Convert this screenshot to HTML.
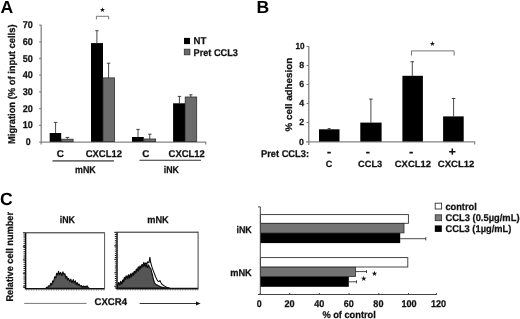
<!DOCTYPE html>
<html>
<head>
<meta charset="utf-8">
<title>Figure</title>
<style>
html,body{margin:0;padding:0;background:#fff;}
body{width:520px;height:319px;overflow:hidden;}
svg{display:block;filter:blur(0.35px);}
text{font-family:"Liberation Sans",Arial,sans-serif;font-weight:bold;fill:#111;text-rendering:geometricPrecision;}
.t{font-size:9.8px;stroke:#111;stroke-width:0.25;}
.p{font-size:17.6px;fill:#000;}
.st{font-family:"DejaVu Sans",sans-serif;font-weight:normal;font-size:6.6px;text-anchor:middle;fill:#111;}
.ax{stroke:#858585;stroke-width:1.3;fill:none;}
.axd{stroke:#444;stroke-width:1;fill:none;}
.eb{stroke:#1a1a1a;stroke-width:0.8;fill:none;}
.bk{fill:#000;}
.gy{fill:#6b6b6b;stroke:#2e2e2e;stroke-width:0.8;}
.wh{fill:#fff;stroke:#333;stroke-width:0.9;}
</style>
</head>
<body>
<svg width="520" height="319" viewBox="0 0 520 319">
<rect x="0" y="0" width="520" height="319" fill="#fff"/>

<!-- ================= PANEL A ================= -->
<g id="panelA">
<text class="p" x="0.5" y="13.2">A</text>
<text class="t" transform="translate(15,144) rotate(-90)" textLength="119.5" lengthAdjust="spacingAndGlyphs">Migration (% of input cells)</text>

<!-- y tick labels -->
<g class="t" text-anchor="middle">
<text x="27.8" y="28.1" textLength="10.1" lengthAdjust="spacingAndGlyphs">70</text>
<text x="27.8" y="44.8" textLength="10.1" lengthAdjust="spacingAndGlyphs">60</text>
<text x="27.8" y="61.5" textLength="10.1" lengthAdjust="spacingAndGlyphs">50</text>
<text x="27.8" y="78.2" textLength="10.1" lengthAdjust="spacingAndGlyphs">40</text>
<text x="27.8" y="94.9" textLength="10.1" lengthAdjust="spacingAndGlyphs">30</text>
<text x="27.8" y="111.6" textLength="10.1" lengthAdjust="spacingAndGlyphs">20</text>
<text x="27.8" y="128.3" textLength="10.1" lengthAdjust="spacingAndGlyphs">10</text>
<text x="28.2" y="145" textLength="4.9" lengthAdjust="spacingAndGlyphs">0</text>
</g>
<!-- axes -->
<path class="ax" d="M41.2 24.8V144.4 M39.2 25.1h2 M39.2 41.8h2 M39.2 58.5h2 M39.2 75.2h2 M39.2 91.9h2 M39.2 108.6h2 M39.2 125.3h2 M39.2 142.1h166.5v2.4"/>

<!-- bars mNK C -->
<rect class="bk" x="49.7" y="133" width="11.5" height="8.8"/>
<rect class="gy" x="61.5" y="139.2" width="11.6" height="2.5"/>
<!-- bars mNK CXCL12 -->
<rect class="bk" x="91" y="43.1" width="12" height="98.7"/>
<rect class="gy" x="103" y="77.9" width="11.6" height="63.6"/>
<!-- bars iNK C -->
<rect class="bk" x="132" y="137" width="11.8" height="4.8"/>
<rect class="gy" x="144" y="139" width="11.6" height="2.6"/>
<!-- bars iNK CXCL12 -->
<rect class="bk" x="173.1" y="103.3" width="11.9" height="38.5"/>
<rect class="gy" x="185.2" y="97" width="11.5" height="44.5"/>

<!-- error bars -->
<path class="eb" d="M55.6 133V122.4 M53.8 122.4h3.7
 M67.4 138.8V137.4 M65.6 137.4h3.7
 M96.9 43.1V30.7 M95.3 30.7h3.3
 M108.6 77.9V63.2 M106.9 63.2h3.4
 M138 137V129.4 M136.3 129.4h3.5
 M149.8 139V134.2 M148.1 134.2h3.4
 M179.4 103.3V96.4 M177.7 96.4h3.5
 M190.8 97V94.8 M189.2 94.8h3.3"/>

<!-- significance bracket -->
<path d="M96.4 19.4V16.3H108.7V19.4" fill="none" stroke="#555" stroke-width="0.8"/>
<text class="st" x="102.5" y="12.3">★</text>

<!-- x labels -->
<g class="t">
<text x="56.7" y="157">C</text>
<text x="85.7" y="157" textLength="36.3" lengthAdjust="spacingAndGlyphs">CXCL12</text>
<text x="142.3" y="157">C</text>
<text x="168.6" y="157" textLength="36.3" lengthAdjust="spacingAndGlyphs">CXCL12</text>
<text x="75" y="172.7" textLength="20.7" lengthAdjust="spacingAndGlyphs">mNK</text>
<text x="163.7" y="172.5" textLength="15.2" lengthAdjust="spacingAndGlyphs">iNK</text>
</g>
<path d="M52.5 160.9H114" stroke="#707070" stroke-width="1.6" fill="none"/>
<path d="M139.4 160.2H201" stroke="#2e2e2e" stroke-width="1.1" fill="none"/>

<!-- legend -->
<rect class="bk" x="184" y="37.9" width="6" height="6.2"/>
<rect class="gy" x="184.3" y="49.2" width="5.6" height="5.6"/>
<text class="t" x="193.6" y="44.4" textLength="12.8" lengthAdjust="spacingAndGlyphs">NT</text>
<text class="t" x="193.6" y="55.6" textLength="44.3" lengthAdjust="spacingAndGlyphs">Pret CCL3</text>
</g>

<!-- ================= PANEL B ================= -->
<g id="panelB">
<text class="p" x="256.6" y="13.2">B</text>
<text class="t" transform="translate(291.7,131.4) rotate(-90)" textLength="73.6" lengthAdjust="spacingAndGlyphs" style="font-size:9.5px">% cell adhesion</text>
<g class="t" text-anchor="end" style="font-size:8.8px">
<text x="304.5" y="48.8" textLength="9.1" lengthAdjust="spacingAndGlyphs">10</text>
<text x="304.2" y="67.8" textLength="4.9" lengthAdjust="spacingAndGlyphs">8</text>
<text x="304.2" y="86.8" textLength="4.9" lengthAdjust="spacingAndGlyphs">6</text>
<text x="304.2" y="105.8" textLength="4.9" lengthAdjust="spacingAndGlyphs">4</text>
<text x="304.2" y="124.9" textLength="4.9" lengthAdjust="spacingAndGlyphs">2</text>
<text x="304" y="145" textLength="4.9" lengthAdjust="spacingAndGlyphs">0</text>
</g>
<path class="ax" d="M308.8 46.2V145 M306.6 46.5h2.2 M306.6 65.5h2.2 M306.6 84.5h2.2 M306.6 103.5h2.2 M306.6 122.5h2.2" style="stroke:#777;stroke-width:1.2"/>
<path class="ax" d="M306 141.9H474.6V144.4"/>

<rect class="bk" x="319" y="129.3" width="20.5" height="12.2"/>
<rect class="bk" x="360.3" y="122.6" width="21.3" height="18.9"/>
<rect class="bk" x="402.4" y="75.8" width="20.5" height="65.7"/>
<rect class="bk" x="443.1" y="116.4" width="20.6" height="25.1"/>
<path class="eb" d="M329 129.3V128.6 M327.6 128.6h3
 M370.9 122.6V99.1 M369.1 99.1h3.6
 M412.3 75.8V61.7 M410.5 61.7h3.6
 M453.6 116.4V98.5 M451.9 98.5h3.5"/>
<path d="M411.5 55.6V50.9H454.1V55.6" fill="none" stroke="#555" stroke-width="0.8"/>
<text class="st" x="432.5" y="46.2" style="font-size:7px">★</text>

<text class="t" x="261" y="157.4" textLength="48" lengthAdjust="spacingAndGlyphs">Pret CCL3:</text>
<g class="t" style="font-size:9px">
<text x="325.8" y="167.4">C</text>
<text x="358" y="167.4" textLength="24.2" lengthAdjust="spacingAndGlyphs">CCL3</text>
<text x="394.8" y="167.4" textLength="36.2" lengthAdjust="spacingAndGlyphs">CXCL12</text>
<text x="437.8" y="167.4" textLength="36.6" lengthAdjust="spacingAndGlyphs">CXCL12</text>
</g>
<path d="M327.3 152.6h3.5 M366.1 152.6h3.5 M409.4 152.6h3.5" stroke="#111" stroke-width="1.6" fill="none"/>
<path d="M449.1 151.7h6.4 M452.3 148.6v6.2" stroke="#111" stroke-width="1.5" fill="none"/>
</g>

<!-- ================= PANEL C ================= -->
<g id="panelC">
<text class="p" x="0" y="205.2">C</text>
<text class="t" transform="translate(13.2,301.6) rotate(-90)" textLength="89.7" lengthAdjust="spacingAndGlyphs">Relative cell number</text>
<text class="t" x="59.8" y="222.7" textLength="15.2" lengthAdjust="spacingAndGlyphs">iNK</text>
<text class="t" x="147.2" y="222.7" textLength="21.5" lengthAdjust="spacingAndGlyphs">mNK</text>

<!-- histogram 1 -->
<path d="M45.8 288.4 46.8 287.2 47.9 287.1 48.7 285.8 49.8 286.2 50.7 283.3 51.7 285.1 52.7 280.8 53.6 282.0 54.7 276.7 55.8 277.8 56.6 273.3 57.7 274.9 58.5 271.3 59.5 274.7 60.6 272.4 61.8 275.5 62.9 271.9 64.1 274.9 64.9 273.7 65.8 278.3 66.8 276.3 67.7 280.1 68.6 278.3 69.7 281.7 70.8 279.1 72.0 282.8 73.2 279.6 74.1 283.1 75.3 280.8 76.3 284.8 77.2 282.5 78.2 285.4 79.0 283.9 80.2 286.2 81.3 285.6 82.2 287.0 83.3 286.0 84.1 287.1 85.0 286.1 85.9 287.1 87.1 285.8 88.3 287.8 89.1 288.3 89.2 288.4Z" fill="#585858" stroke="#0a0a0a" stroke-width="1.1" stroke-linejoin="round"/>
<path d="M25.6 232.8V288.9" stroke="#111" stroke-width="1.5" fill="none"/>
<path d="M24.9 288.7H104.6" stroke="#111" stroke-width="1.6" fill="none"/>
<path d="M24.9 232.8H104.6" stroke="#222" stroke-width="1" fill="none"/>
<path d="M104.6 232.3V289.4" stroke="#555" stroke-width="1" fill="none"/>
<path d="M24.2 232.4V289" stroke="#111" stroke-width="1.5" stroke-dasharray="0.9 1.2" fill="none"/>
<path d="M22.9 232.8h2 M22.9 246.3h2 M22.9 259.8h2 M22.9 273.3h2 M22.9 286.8h2" stroke="#222" stroke-width="0.9" fill="none"/>
<path d="M26 290.1H104.6" stroke="#333" stroke-width="0.9" stroke-dasharray="0.8 1.7" opacity="0.75" fill="none"/>

<!-- histogram 2 -->
<path d="M117.5 288.4 L117.5 285.7 118.6 282.6 119.8 285.0 120.9 282.3 121.9 284.0 123.0 279.8 123.8 281.6 124.7 278.0 125.8 279.3 126.6 276.6 127.8 278.7 128.7 275.5 129.5 278.2 130.4 275.5 131.5 276.9 132.4 273.4 133.6 275.1 134.8 271.5 135.8 272.8 137.0 269.3 138.2 271.2 139.1 267.8 140.0 269.2 140.8 266.5 141.8 267.6 142.9 264.6 143.8 266.4 144.8 263.4 145.8 266.9 146.6 264.5 147.5 267.8 148.6 264.9 149.7 267.8 150.7 268.5 151.6 271.9 152.7 276.0 153.8 280.8 155.0 283.6 156.0 284.7 157.1 284.9 158.2 285.8 159.3 286.1 160.5 286.8 161.4 287.0 162.6 287.4 163.8 287.5 164.7 287.8 165.6 287.8 166.4 288.0 167.6 288.1 168.4 288.2 169.5 288.3 170.0 288.4Z" fill="#555" stroke="#0a0a0a" stroke-width="1.1" stroke-linejoin="round"/>
<path d="M117.5 285.7 118.4 283.0 119.6 284.0 120.6 281.4 121.4 283.6 122.5 280.5 123.4 281.6 124.4 277.4 125.3 278.7 126.1 275.8 127.3 277.4 128.4 274.8 129.5 276.5 130.4 273.8 131.5 275.8 132.3 273.0 133.2 274.3 134.3 271.3 135.5 272.6 136.3 269.1 137.3 269.8 138.3 266.8 139.1 269.1 140.0 265.9 141.1 267.2 141.9 264.5 143.0 265.1 143.8 262.4 145.0 264.5 145.9 262.8 146.8 264.9 147.6 261.7 149.0 262.8 149.9 257.2 150.6 262.0 151.9 266.8 152.7 269.2 153.9 272.4 155.0 275.2 155.9 277.4 156.9 279.5 157.8 281.0 158.9 281.6 159.9 280.5 161.1 283.0 161.9 284.3 162.8 284.9 163.7 285.5 164.7 286.1 165.7 286.7 166.8 287.2 167.9 287.6 168.9 288.0 169.4 288.2" fill="none" stroke="#0a0a0a" stroke-width="1.05" stroke-linejoin="round"/>
<path d="M117 232.2V288.9" stroke="#111" stroke-width="1.5" fill="none"/>
<path d="M116.3 288.6H198.2" stroke="#111" stroke-width="1.6" fill="none"/>
<path d="M116.3 232.2H198.2" stroke="#222" stroke-width="1" fill="none"/>
<path d="M198.1 231.7V289.3" stroke="#444" stroke-width="1" fill="none"/>
<path d="M115.6 231.9V289" stroke="#111" stroke-width="1.5" stroke-dasharray="0.9 1.2" fill="none"/>
<path d="M114.2 232.3h2 M114.2 245.8h2 M114.2 259.3h2 M114.2 272.8h2 M114.2 286.3h2" stroke="#222" stroke-width="0.9" fill="none"/>
<path d="M117.4 290H198.2" stroke="#333" stroke-width="0.9" stroke-dasharray="0.8 1.7" opacity="0.75" fill="none"/>

<!-- CXCR4 axis arrow -->
<path d="M24.2 303.4H86.5" stroke="#777" stroke-width="1" fill="none"/>
<text class="t" x="94.6" y="305" textLength="32.4" lengthAdjust="spacingAndGlyphs">CXCR4</text>
<path d="M139.7 303.5H197" stroke="#333" stroke-width="1" fill="none"/>
<path d="M200.6 303.5L196 301.4V305.6Z" fill="#111"/>

<!-- horizontal bar chart -->
<text class="t" x="236.4" y="232.8" textLength="15.4" lengthAdjust="spacingAndGlyphs">iNK</text>
<text class="t" x="230.2" y="276.2" textLength="21.6" lengthAdjust="spacingAndGlyphs">mNK</text>

<rect class="wh" x="260.4" y="214.6" width="148" height="8.7"/>
<rect class="gy" x="260.4" y="223.5" width="143.6" height="9.4" style="fill:#747474"/>
<rect class="bk" x="260" y="233.1" width="140.2" height="10"/>
<rect class="wh" x="260.4" y="257.6" width="147.4" height="9.4"/>
<rect class="gy" x="260.4" y="267.3" width="95.2" height="9.3" style="fill:#747474"/>
<rect class="bk" x="260" y="276.8" width="88.8" height="10"/>
<path class="eb" d="M400.2 238.7H425.8 M425.8 237.2v3.2
 M355.6 271.6H366.5 M366.5 270.1v3
 M348.8 281.8H356.5 M356.5 280.3v3"/>
<path class="axd" d="M258 206.9h2.3V294.5 M258 294.5H436.8 M260.2 293v1.5 M289.7 293v1.5 M319.4 293v1.5 M349.1 293v1.5 M378.8 293v1.5 M408.5 293v1.5 M436.6 293v1.5"/>
<text class="st" x="374.4" y="276.2" style="font-size:7.2px">★</text>
<text class="st" x="363.8" y="281.3" style="font-size:7.2px">★</text>

<g class="t" text-anchor="middle">
<text x="259.2" y="306.6" textLength="4.9" lengthAdjust="spacingAndGlyphs">0</text>
<text x="289.5" y="306.6" textLength="10.1" lengthAdjust="spacingAndGlyphs">20</text>
<text x="319.2" y="306.6" textLength="10.1" lengthAdjust="spacingAndGlyphs">40</text>
<text x="348.8" y="306.6" textLength="10.1" lengthAdjust="spacingAndGlyphs">60</text>
<text x="378.4" y="306.6" textLength="10.1" lengthAdjust="spacingAndGlyphs">80</text>
<text x="409" y="306.6" textLength="15.2" lengthAdjust="spacingAndGlyphs">100</text>
<text x="438.6" y="306.6" textLength="15.2" lengthAdjust="spacingAndGlyphs">120</text>
</g>
<text class="t" x="322.4" y="318.3" textLength="53.4" lengthAdjust="spacingAndGlyphs">% of control</text>

<!-- legend -->
<rect class="wh" x="435.2" y="203.2" width="6.4" height="5.8"/>
<rect class="gy" x="435.2" y="214.8" width="6.4" height="5.9" style="fill:#7c7c7c"/>
<rect class="bk" x="434.8" y="225.4" width="7" height="6.5"/>
<text class="t" x="445.5" y="209.7" textLength="31.2" lengthAdjust="spacingAndGlyphs">control</text>
<text class="t" x="445.5" y="221" textLength="74" lengthAdjust="spacingAndGlyphs">CCL3 (0.5µg/mL)</text>
<text class="t" x="445.5" y="232" textLength="65.8" lengthAdjust="spacingAndGlyphs">CCL3 (1µg/mL)</text>
</g>
</svg>
</body>
</html>
